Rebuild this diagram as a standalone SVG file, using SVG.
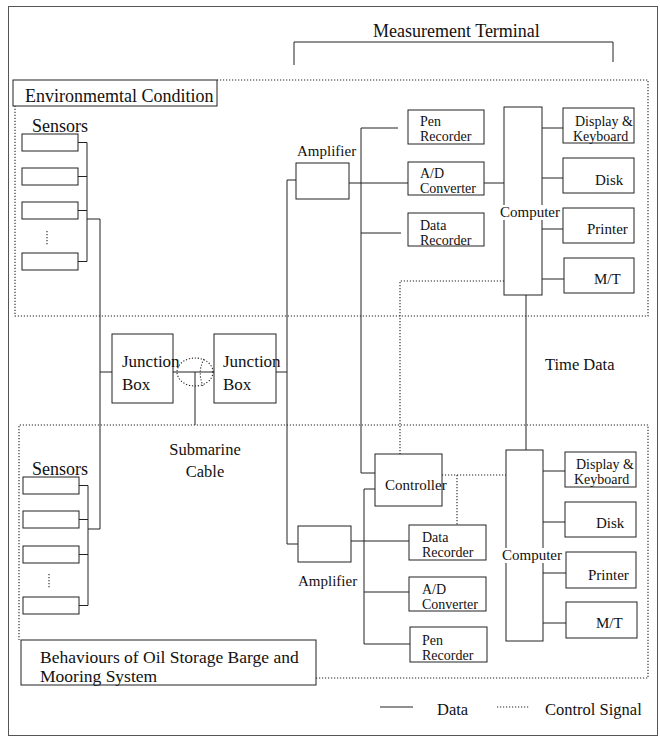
<svg xmlns="http://www.w3.org/2000/svg" width="660" height="745" viewBox="0 0 660 745">
<style>
  .ln{fill:none;stroke:#222;stroke-width:1}
  .dt{fill:none;stroke:#222;stroke-width:1.1;stroke-dasharray:1.2 1.8}
  .bx{fill:#fff;stroke:#222;stroke-width:1}
  .t{font-family:"Liberation Serif","Times New Roman",serif;fill:#111;font-size:15px}
  .s14{font-size:14px}
  .t16{font-size:16.5px}
  .t18{font-size:18px}
  .t17{font-size:17px}
  .wb{fill:#fff;stroke:none}
</style>
<rect x="0" y="0" width="660" height="745" fill="#fff"/>
<rect id="frame" x="8.5" y="6.5" width="649" height="729" fill="none" stroke="#555" stroke-width="1"/>

<g id="regions">
  <g id="measurement-terminal">
    <path class="ln" d="M294,65 V42 H613 V62"/>
    <text class="t t18" x="373" y="37">Measurement Terminal</text>
  </g>
  <g id="env-region">
    <path class="dt" d="M217,80 H648 V316 H15 V106"/>
    <rect class="bx" x="13" y="80" width="204" height="26"/>
    <text class="t t18" x="25" y="102">Environmemtal Condition</text>
  </g>
  <g id="barge-region">
    <path class="dt" d="M316,678 H648 V425 H19 V640"/>
    <rect class="bx" x="21" y="640" width="295" height="45"/>
    <text class="t" style="font-size:17.5px" x="40" y="663">Behaviours of Oil Storage Barge and</text>
    <text class="t" style="font-size:17.5px" x="40" y="682">Mooring System</text>
  </g>
</g>

<g id="connectors">
  <path class="ln" d="M78,142.5 H87 M78,176.5 H87 M78,210.5 H87 M78,261.5 H87 M87,142.5 V261.5"/>
  <path class="ln" d="M87,219 H100 V529 H88 M100,372 H112"/>
  <path class="ln" d="M79,485.5 H88 M79,519.5 H88 M79,554.5 H88 M79,605.5 H88 M88,485.5 V605.5"/>
  <path class="ln" d="M173,372 H214 M195,372 V425"/>
  <ellipse class="dt" cx="195" cy="372" rx="18" ry="14"/>
  <path class="dt" d="M204,359 Q197,372 203,386"/>
  <path class="ln" d="M276,372 H287 M287,180 V544 M287,180 H296 M287,544 H298"/>
  <path class="ln" d="M349,183 H408 M361,128 V473 H375 M361,128 H398 M361,233 H401"/>
  <path class="ln" d="M484,183 H504"/>
  <path class="ln" d="M542,128 H563 M542,178 H563 M542,229 H565 M542,279 H564"/>
  <path class="dt" d="M504,281 H400 V454"/>
  <path class="ln" d="M526,295 V450"/>
  <path class="dt" d="M442,475 H506 M457,475 V525"/>
  <path class="ln" d="M351,541 H409 M364,489 V644 H410 M364,489 H375 M364,592 H409"/>
  <path class="ln" d="M543,471 H565 M543,522 H565 M543,573 H566 M543,623 H566"/>
</g>

<g id="sensors-upper">
  <text class="t t18" x="32" y="132">Sensors</text>
  <rect class="bx" x="22" y="134" width="56" height="17"/>
  <rect class="bx" x="22" y="168" width="56" height="17"/>
  <rect class="bx" x="22" y="202" width="56" height="17"/>
  <path class="dt" d="M47,231 V245"/>
  <rect class="bx" x="22" y="253" width="56" height="17"/>
</g>
<g id="sensors-lower">
  <text class="t t18" x="32" y="475">Sensors</text>
  <rect class="bx" x="23" y="477" width="56" height="17"/>
  <rect class="bx" x="23" y="511" width="56" height="17"/>
  <rect class="bx" x="23" y="546" width="56" height="17"/>
  <path class="dt" d="M49,574 V589"/>
  <rect class="bx" x="23" y="597" width="56" height="17"/>
</g>

<g id="junction-box-1">
  <rect class="bx" x="112" y="334" width="61" height="69"/>
  <text class="t t17" x="122" y="367">Junction</text>
  <text class="t t17" x="122" y="390">Box</text>
</g>
<g id="junction-box-2">
  <rect class="bx" x="214" y="334" width="62" height="69"/>
  <text class="t t17" x="223" y="367">Junction</text>
  <text class="t t17" x="223" y="390">Box</text>
</g>
<g id="submarine-cable-label">
  <text class="t t16" x="205" y="455" text-anchor="middle">Submarine</text>
  <text class="t t16" x="205" y="477" text-anchor="middle">Cable</text>
</g>

<g id="amplifier-upper">
  <rect class="bx" x="296" y="163" width="53" height="36"/>
  <text class="t" x="297" y="156">Amplifier</text>
</g>
<g id="pen-recorder-upper">
  <rect class="bx" x="408" y="110" width="76" height="34"/>
  <text class="t s14" x="420" y="126">Pen</text>
  <text class="t s14" x="420" y="141">Recorder</text>
</g>
<g id="ad-converter-upper">
  <rect class="bx" x="408" y="162" width="76" height="33"/>
  <text class="t s14" x="420" y="178">A/D</text>
  <text class="t s14" x="420" y="193">Converter</text>
</g>
<g id="data-recorder-upper">
  <rect class="bx" x="408" y="213" width="76" height="33"/>
  <text class="t s14" x="420" y="230">Data</text>
  <text class="t s14" x="420" y="245">Recorder</text>
</g>
<g id="computer-upper">
  <rect class="bx" x="504" y="107" width="38" height="188"/>
  <rect class="wb" x="500" y="205" width="60" height="15"/>
  <text class="t" x="500" y="217">Computer</text>
</g>
<g id="display-upper">
  <rect class="bx" x="563" y="108" width="71" height="35"/>
  <text class="t s14" x="575" y="126">Display &amp;</text>
  <text class="t s14" x="573" y="141">Keyboard</text>
</g>
<g id="disk-upper">
  <rect class="bx" x="563" y="158" width="71" height="35"/>
  <text class="t" x="595" y="185">Disk</text>
</g>
<g id="printer-upper">
  <rect class="bx" x="563" y="208" width="71" height="35"/>
  <text class="t" x="587" y="234">Printer</text>
</g>
<g id="mt-upper">
  <rect class="bx" x="564" y="258" width="70" height="35"/>
  <text class="t" x="594" y="284">M/T</text>
</g>

<g id="time-data-label">
  <text class="t t16" x="545" y="370">Time Data</text>
</g>

<g id="controller">
  <rect class="bx" x="375" y="454" width="67" height="52"/>
  <text class="t" x="385" y="490">Controller</text>
</g>
<g id="amplifier-lower">
  <rect class="bx" x="298" y="526" width="53" height="36"/>
  <text class="t" x="298" y="586">Amplifier</text>
</g>
<g id="data-recorder-lower">
  <rect class="bx" x="409" y="525" width="77" height="35"/>
  <text class="t s14" x="422" y="542">Data</text>
  <text class="t s14" x="422" y="557">Recorder</text>
</g>
<g id="ad-converter-lower">
  <rect class="bx" x="409" y="577" width="77" height="34"/>
  <text class="t s14" x="422" y="594">A/D</text>
  <text class="t s14" x="422" y="609">Converter</text>
</g>
<g id="pen-recorder-lower">
  <rect class="bx" x="410" y="627" width="77" height="35"/>
  <text class="t s14" x="422" y="645">Pen</text>
  <text class="t s14" x="422" y="660">Recorder</text>
</g>
<g id="computer-lower">
  <rect class="bx" x="506" y="450" width="37" height="191"/>
  <rect class="wb" x="502" y="548" width="60" height="15"/>
  <text class="t" x="502" y="560">Computer</text>
</g>
<g id="display-lower">
  <rect class="bx" x="565" y="452" width="71" height="35"/>
  <text class="t s14" x="576" y="469">Display &amp;</text>
  <text class="t s14" x="574" y="484">Keyboard</text>
</g>
<g id="disk-lower">
  <rect class="bx" x="565" y="502" width="71" height="35"/>
  <text class="t" x="596" y="528">Disk</text>
</g>
<g id="printer-lower">
  <rect class="bx" x="566" y="552" width="70" height="36"/>
  <text class="t" x="588" y="580">Printer</text>
</g>
<g id="mt-lower">
  <rect class="bx" x="566" y="602" width="71" height="36"/>
  <text class="t" x="596" y="628">M/T</text>
</g>

<g id="legend">
  <path class="ln" d="M380,707 H413"/>
  <text class="t t16" x="437" y="715">Data</text>
  <path class="dt" d="M497,707 H530"/>
  <text class="t t16" x="545" y="715">Control Signal</text>
</g>
</svg>
